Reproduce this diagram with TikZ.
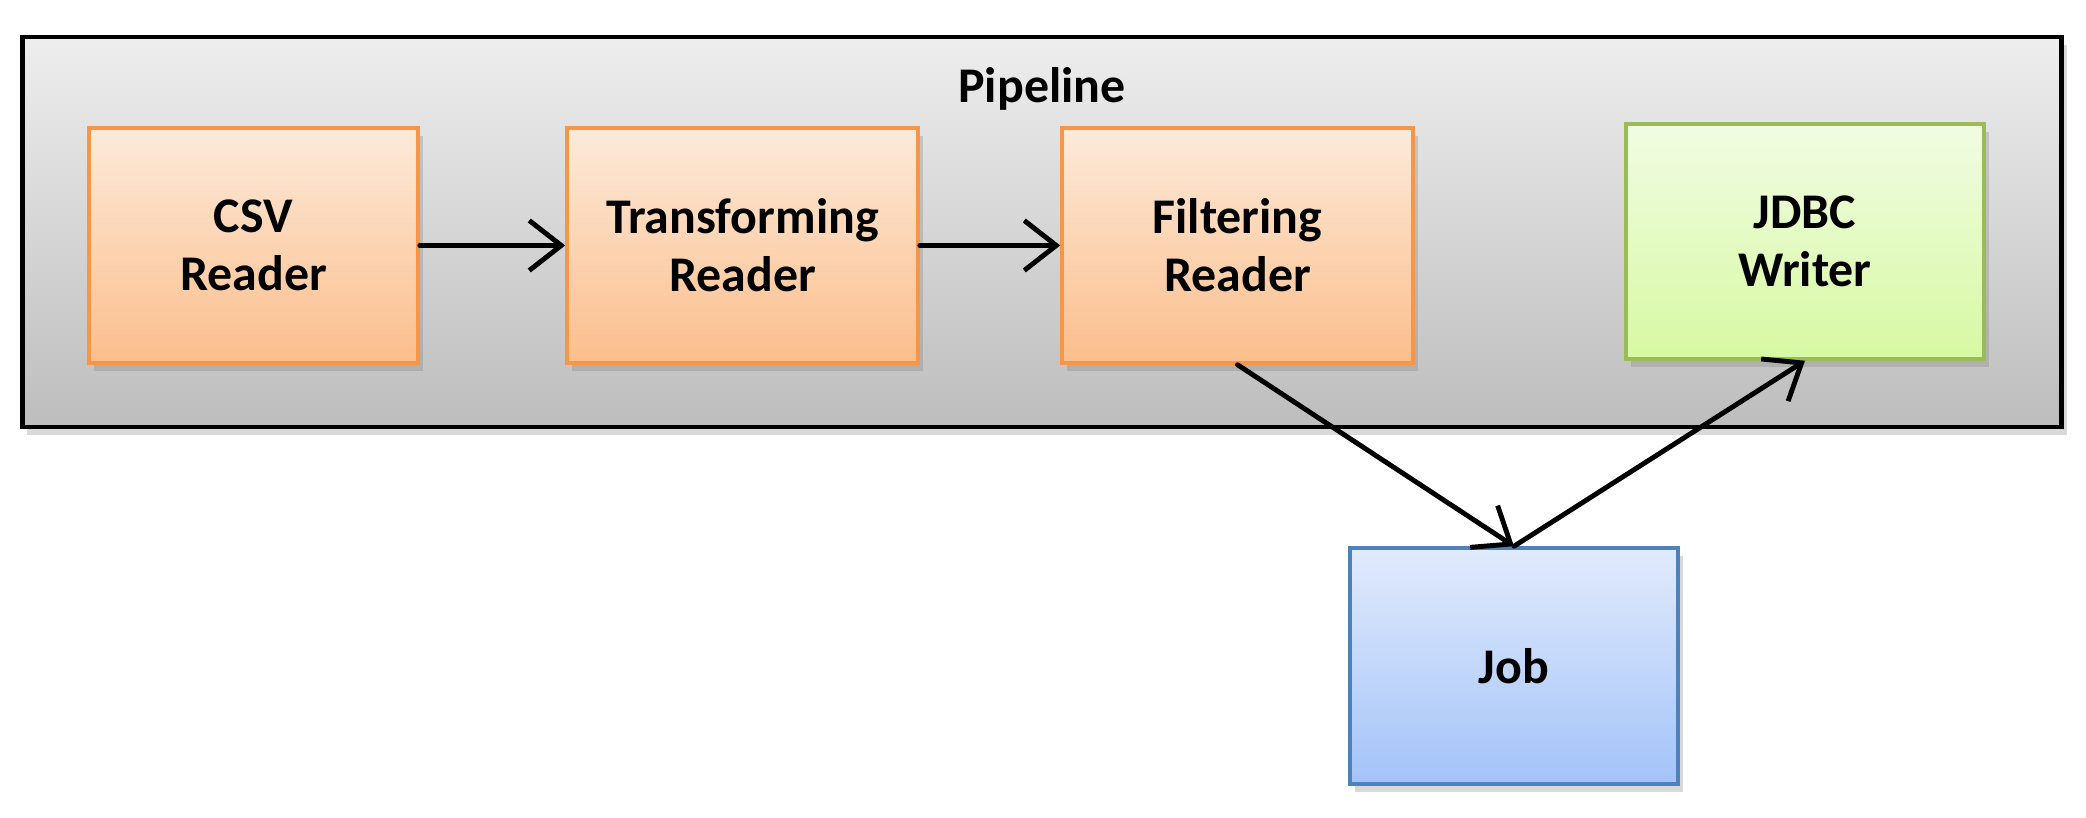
\documentclass[tikz,border=0pt]{standalone}
\usepackage{fontspec}
\setmainfont{Carlito}
\usepackage{tikz}
\usetikzlibrary{arrows.meta,positioning,shadows}
\definecolor{pipeTop}{RGB}{238,238,238}
\definecolor{pipeBot}{RGB}{189,189,189}
\definecolor{readLine}{RGB}{247,150,70}
\definecolor{readTop}{RGB}{253,234,218}
\definecolor{readBot}{RGB}{251,190,140}
\definecolor{writeLine}{RGB}{155,187,89}
\definecolor{writeTop}{RGB}{241,252,227}
\definecolor{writeBot}{RGB}{215,249,162}
\definecolor{jobLine}{RGB}{79,129,189}
\definecolor{jobTop}{RGB}{225,235,252}
\definecolor{jobBot}{RGB}{164,195,249}
\tikzset{
  box/.style={draw, line width=1pt, align=center, minimum height=2.35cm, inner sep=4pt,
              font=\fontsize{14.2}{16.6}\selectfont\bfseries,
              drop shadow={shadow xshift=0.5mm, shadow yshift=-0.8mm, opacity=0.3}},
  readbox/.style={box, draw=readLine, top color=readTop, bottom color=readBot},
  writebox/.style={box, draw=writeLine, top color=writeTop, bottom color=writeBot},
  jobbox/.style={box, draw=jobLine, top color=jobTop, bottom color=jobBot},
  arrow/.style={-{Straight Barb[length=3.2mm, width=5mm]}, line width=1.4pt, line cap=round}
}
\begin{document}
\begin{tikzpicture}
\useasboundingbox (0,0) rectangle (20.86,8.18);
% pipeline frame
\node[draw=black, line width=1.3pt, top color=pipeTop, bottom color=pipeBot,
      minimum width=20.39cm, minimum height=3.9cm, inner sep=0pt,
      drop shadow={shadow xshift=0.5mm, shadow yshift=-0.8mm, opacity=0.3}] (pipe) at (10.42,5.86) {};
\node[font=\fontsize{14.2}{16.6}\selectfont\bfseries] (pipelbl) at (10.42,7.29) {Pipeline};
% stages
\node[readbox, minimum width=3.29cm] (csv) at (2.535,5.725) {CSV\\Reader};
\node[readbox, minimum width=3.51cm] (trans) at (7.425,5.725) {Transforming\\Reader};
\node[readbox, minimum width=3.51cm] (filt) at (12.375,5.725) {Filtering\\Reader};
\node[writebox, minimum width=3.58cm] (jdbc) at (18.05,5.765) {JDBC\\Writer};
\node[jobbox, minimum width=3.28cm, minimum height=2.36cm] (job) at (15.14,1.52) {Job};
\draw[arrow] (csv) -- (trans);
\draw[arrow] (trans) -- (filt);
\draw[arrow] (filt.south) -- (job.north);
\draw[arrow] (job.north) -- (jdbc.south);
\end{tikzpicture}
\end{document}
